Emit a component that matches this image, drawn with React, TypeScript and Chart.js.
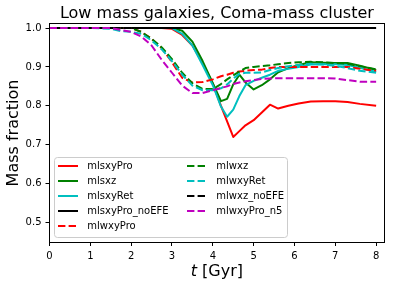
import React, { useEffect, useRef } from 'react';
import { Chart, registerables } from 'chart.js';

Chart.register(...registerables);

const TITLE = 'Low mass galaxies, Coma-mass cluster';
const Y_LABEL = 'Mass fraction';
const X_LABEL_ITALIC = 't';
const X_LABEL_REST = ' [Gyr]';

const X_TICKS = [0, 1, 2, 3, 4, 5, 6, 7, 8];
const Y_TICKS = [0.5, 0.6, 0.7, 0.8, 0.9, 1.0];

const TIME = [0, 0.5, 1, 1.5, 1.75, 2, 2.25, 2.5, 2.75, 3, 3.25, 3.5, 3.75, 4, 4.2, 4.35, 4.5, 4.65, 4.8, 5, 5.2, 5.4, 5.6, 5.85, 6.1, 6.4, 6.7, 7, 7.3, 7.6, 8];

const mlsxyPro = [1, 1, 1, 1, 1, 1, 1, 1, 1, 0.998, 0.982, 0.955, 0.91, 0.857, 0.8, 0.76, 0.72, 0.735, 0.75, 0.763, 0.783, 0.803, 0.793, 0.8, 0.806, 0.811, 0.812, 0.812, 0.81, 0.805, 0.8];
const mlsxz = [1, 1, 1, 1, 1, 1, 1, 1, 1, 1, 0.993, 0.965, 0.915, 0.858, 0.812, 0.818, 0.855, 0.88, 0.86, 0.842, 0.853, 0.868, 0.886, 0.897, 0.905, 0.912, 0.911, 0.91, 0.91, 0.903, 0.892];
const mlsxyRet = [1, 1, 1, 1, 1, 1, 1, 1, 1, 1, 0.985, 0.955, 0.905, 0.853, 0.798, 0.772, 0.79, 0.825, 0.853, 0.864, 0.872, 0.88, 0.89, 0.895, 0.9, 0.906, 0.907, 0.907, 0.905, 0.898, 0.887];
const mlsxyPro_noEFE = [1, 1, 1, 1, 1, 1, 1, 1, 1, 1, 1, 1, 1, 1, 1, 1, 1, 1, 1, 1, 1, 1, 1, 1, 1, 1, 1, 1, 1, 1, 1];
const mlwxyPro = [1, 1, 1, 1, 1, 1, 0.99, 0.972, 0.948, 0.912, 0.872, 0.86, 0.861, 0.868, 0.876, 0.88, 0.885, 0.888, 0.89, 0.892, 0.893, 0.897, 0.9, 0.9, 0.9, 0.9, 0.9, 0.9, 0.9, 0.895, 0.89];
const mlwxz = [1, 1, 1, 1, 1, 1, 0.99, 0.972, 0.95, 0.92, 0.885, 0.858, 0.843, 0.843, 0.856, 0.868, 0.878, 0.888, 0.897, 0.9, 0.902, 0.904, 0.907, 0.91, 0.912, 0.913, 0.912, 0.91, 0.908, 0.902, 0.894];
const mlwxyRet = [1, 1, 1, 0.998, 0.992, 0.99, 0.985, 0.968, 0.945, 0.915, 0.88, 0.852, 0.84, 0.84, 0.845, 0.855, 0.87, 0.882, 0.885, 0.885, 0.886, 0.892, 0.897, 0.902, 0.905, 0.908, 0.906, 0.903, 0.897, 0.89, 0.885];
const mlwxz_noEFE = [1, 1, 1, 1, 1, 1, 1, 1, 1, 1, 1, 1, 1, 1, 1, 1, 1, 1, 1, 1, 1, 1, 1, 1, 1, 1, 1, 1, 1, 1, 1];
const mlwxyPro_n5 = [1, 1, 1, 1, 0.995, 0.99, 0.978, 0.955, 0.918, 0.885, 0.852, 0.833, 0.833, 0.84, 0.846, 0.85, 0.856, 0.86, 0.863, 0.866, 0.869, 0.87, 0.871, 0.871, 0.871, 0.871, 0.871, 0.87, 0.866, 0.862, 0.862];

const SERIES_LABELS = ['mlsxyPro', 'mlsxz', 'mlsxyRet', 'mlsxyPro_noEFE', 'mlwxyPro', 'mlwxz', 'mlwxyRet', 'mlwxz_noEFE', 'mlwxyPro_n5'];
const SERIES_VALUES = [mlsxyPro, mlsxz, mlsxyRet, mlsxyPro_noEFE, mlwxyPro, mlwxz, mlwxyRet, mlwxz_noEFE, mlwxyPro_n5];
const SERIES_COLORS = ['#ff0000', '#008000', '#00bfbf', '#000000', '#ff0000', '#008000', '#00bfbf', '#000000', '#bf00bf'];
const SERIES_DASHED = [false, false, false, false, true, true, true, true, true];

const DASH = [7.4, 3.2];
const FONT = "'DejaVu Sans', 'Liberation Sans', sans-serif";

const decorPlugin = {
  id: 'decor',
  afterDraw(chart: any) {
    const ctx: CanvasRenderingContext2D = chart.ctx;
    const a = chart.chartArea;
    ctx.save();
    // frame
    ctx.strokeStyle = '#000';
    ctx.lineWidth = 1;
    ctx.setLineDash([]);
    const fl = Math.floor(a.left) + 0.5;
    const ft = Math.floor(a.top) - 0.5;
    const fr = Math.floor(a.right) + 0.5;
    const fb = Math.floor(a.bottom) + 0.5;
    ctx.strokeRect(fl, ft, fr - fl, fb - ft);

    const cx = (a.left + a.right) / 2;
    ctx.fillStyle = '#000';
    // title
    ctx.font = `16px ${FONT}`;
    ctx.textAlign = 'center';
    ctx.textBaseline = 'alphabetic';
    ctx.fillText(TITLE, cx, a.top - 6);

    // x label
    ctx.font = `italic 16px ${FONT}`;
    const w1 = ctx.measureText(X_LABEL_ITALIC).width;
    ctx.font = `16px ${FONT}`;
    const w2 = ctx.measureText(X_LABEL_REST).width;
    const sx = cx - (w1 + w2) / 2;
    const by = a.bottom + 33.7;
    ctx.textAlign = 'left';
    ctx.font = `italic 16px ${FONT}`;
    ctx.fillText(X_LABEL_ITALIC, sx, by);
    ctx.font = `16px ${FONT}`;
    ctx.fillText(X_LABEL_REST, sx + w1, by);

    // y label
    ctx.save();
    ctx.translate(18, (a.top + a.bottom) / 2);
    ctx.rotate(-Math.PI / 2);
    ctx.textAlign = 'center';
    ctx.fillText(Y_LABEL, 0, 0);
    ctx.restore();

    // legend
    const lx = 54.5, ly = 157.5, lw = 233, lh = 80;
    ctx.beginPath();
    (ctx as any).roundRect(lx, ly, lw, lh, 3);
    ctx.fillStyle = 'rgba(255,255,255,0.8)';
    ctx.fill();
    ctx.strokeStyle = '#cccccc';
    ctx.lineWidth = 1;
    ctx.stroke();

    ctx.font = `10px ${FONT}`;
    ctx.textAlign = 'left';
    ctx.textBaseline = 'middle';
    chart.data.datasets.forEach((ds: any, i: number) => {
      const col = i < 5 ? 0 : 1;
      const row = i < 5 ? i : i - 5;
      const x0 = col === 0 ? 58 : 187;
      const y = 166 + row * 15;
      ctx.beginPath();
      ctx.setLineDash(ds.borderDash || []);
      ctx.strokeStyle = ds.borderColor;
      ctx.lineWidth = 2;
      ctx.moveTo(x0, y);
      ctx.lineTo(x0 + 20, y);
      ctx.stroke();
      ctx.setLineDash([]);
      ctx.fillStyle = '#000';
      ctx.fillText(ds.label, x0 + 29.3, y + 0.5);
    });
    ctx.restore();
  },
};

export default function App() {
  const ref = useRef<HTMLCanvasElement>(null);
  useEffect(() => {
    document.body.style.margin = '0';
    const datasets = SERIES_LABELS.map((label, i) => ({
      label,
      data: SERIES_VALUES[i].map((v, j) => ({ x: TIME[j], y: v })),
      borderColor: SERIES_COLORS[i],
      backgroundColor: SERIES_COLORS[i],
      borderWidth: 2,
      borderDash: SERIES_DASHED[i] ? DASH : [],
      borderJoinStyle: 'round' as const,
      pointRadius: 0,
      fill: false,
      tension: 0,
      order: SERIES_LABELS.length - i,
    }));
    const chart = new Chart(ref.current!, {
      type: 'line',
      data: { datasets },
      options: {
        animation: false,
        responsive: false,
        devicePixelRatio: 1,
        layout: { padding: { left: 0, right: 9.7, top: 24, bottom: 0 } },
        plugins: {
          legend: { display: false },
          tooltip: { enabled: false },
          title: { display: false },
        },
        scales: {
          x: {
            type: 'linear',
            min: 0,
            max: 8.2,
            afterFit(s: any) { s.height = 47; },
            afterBuildTicks(s: any) { s.ticks = X_TICKS.map((v) => ({ value: v })); },
            ticks: {
              color: '#000',
              font: { family: FONT, size: 10 },
              padding: 4,
              maxRotation: 0,
              autoSkip: false,
              callback: (v: any) => String(v),
            },
            grid: { display: true, drawOnChartArea: false, drawTicks: true, tickLength: 4, color: '#000', lineWidth: 1 },
            border: { display: false },
          },
          y: {
            type: 'linear',
            min: 0.45,
            max: 1.0103,
            afterFit(s: any) { s.width = 49.5; },
            afterBuildTicks(s: any) { s.ticks = Y_TICKS.map((v) => ({ value: v })); },
            ticks: {
              color: '#000',
              font: { family: FONT, size: 10 },
              padding: 4,
              autoSkip: false,
              callback: (v: any) => Number(v).toFixed(1),
            },
            grid: { display: true, drawOnChartArea: false, drawTicks: true, tickLength: 4, color: '#000', lineWidth: 1 },
            border: { display: false },
          },
        },
      },
      plugins: [decorPlugin],
    });
    return () => chart.destroy();
  }, []);
  return (
    <div style={{ position: 'fixed', left: 0, top: 0, width: 394, height: 289, background: '#fff' }}>
      <canvas ref={ref} width={394} height={289} style={{ width: 394, height: 289, display: 'block' }} />
    </div>
  );
}
